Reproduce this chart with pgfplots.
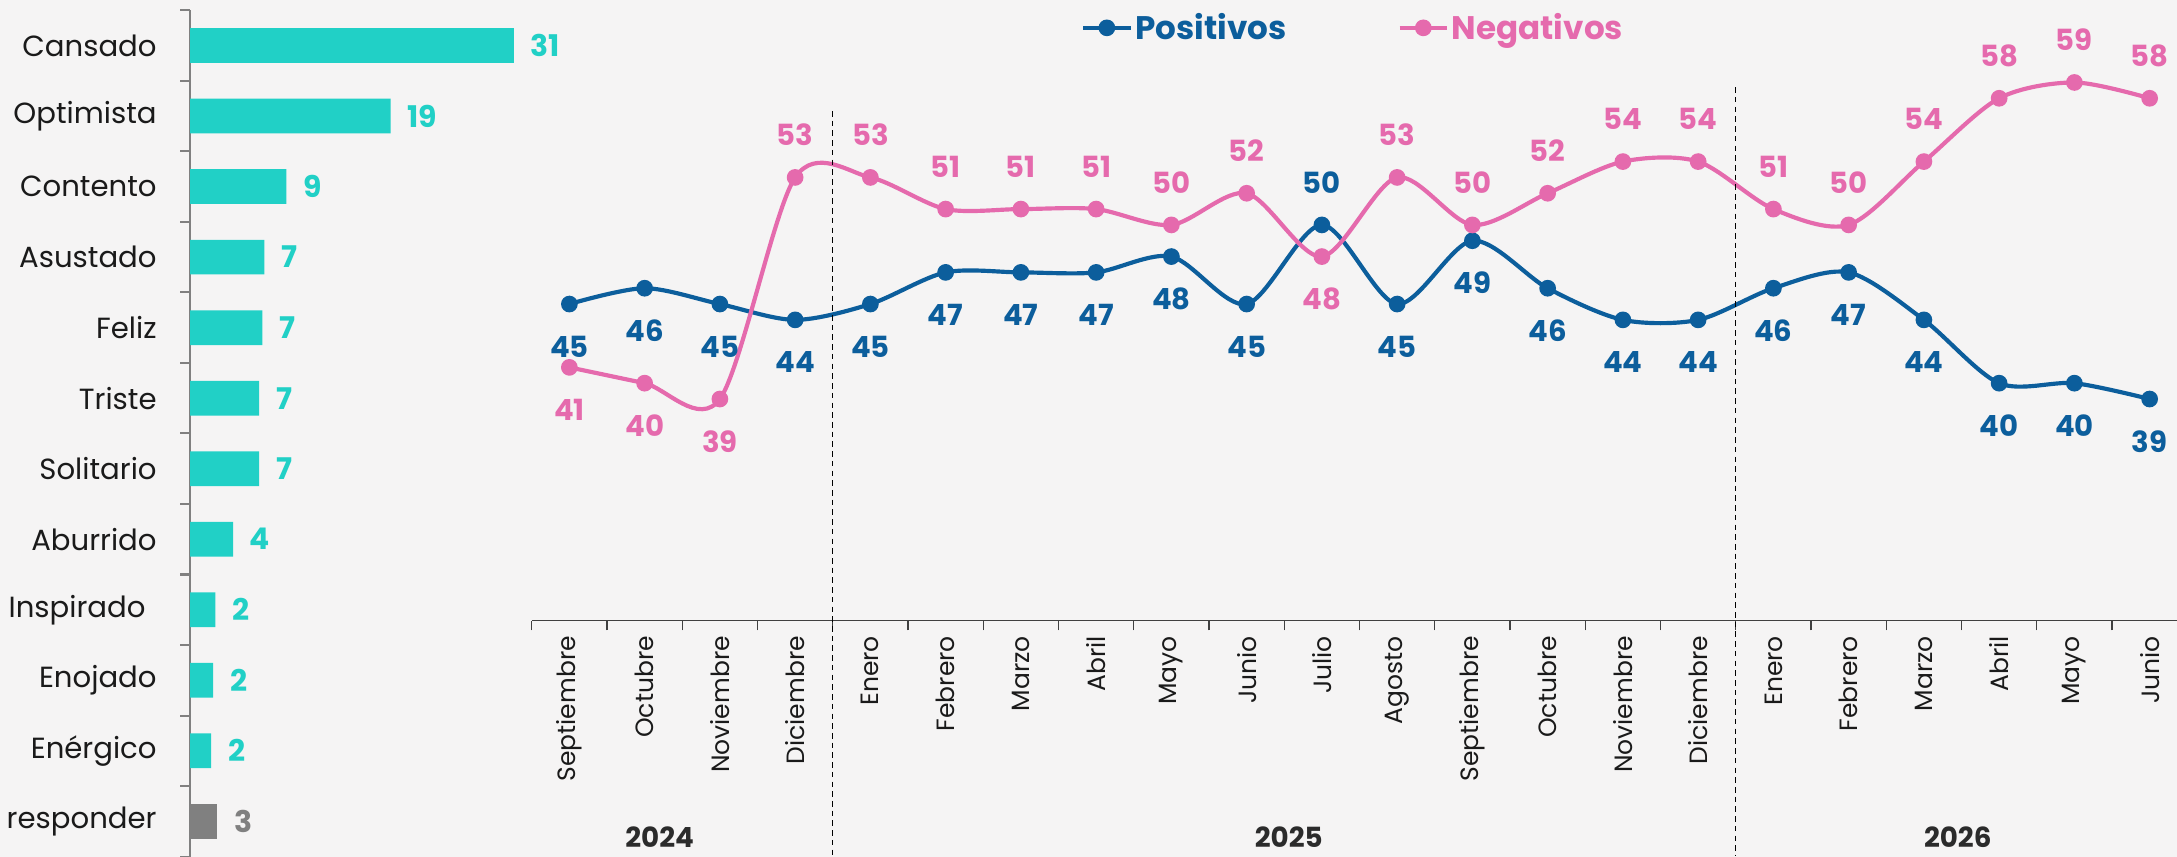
\documentclass[border=0pt]{standalone}
\usepackage{fontspec}
\setmainfont{Poppins}
\usepackage{pgfplots}
\pgfplotsset{compat=1.18}
\usepackage{pgfplotstable}

\definecolor{posc}{HTML}{0C5E9C}
\definecolor{negc}{HTML}{E56AAD}
\definecolor{tealc}{HTML}{21D0C6}
\definecolor{grayc}{HTML}{808080}
\definecolor{bgc}{HTML}{F5F4F4}
\definecolor{ink}{HTML}{1A1A1A}
\definecolor{yearc}{HTML}{2B2B2B}
\definecolor{axdark}{HTML}{404040}

\pgfplotstableread{
x y p
0 45 -1
1 46 -1
2 45 -1
3 44 -1
4 45 -1
5 47 -1
6 47 -1
7 47 -1
8 48 -1
9 45 -1
10 50 1
11 45 -1
12 49 -1
13 46 -1
14 44 -1
15 44 -1
16 46 -1
17 47 -1
18 44 -1
19 40 -1
20 40 -1
21 39 -1
}\posdata

\pgfplotstableread{
x y p
0 41 -1
1 40 -1
2 39 -1
3 53 1
4 53 1
5 51 1
6 51 1
7 51 1
8 50 1
9 52 1
10 48 -1
11 53 1
12 50 1
13 52 1
14 54 1
15 54 1
16 51 1
17 50 1
18 54 1
19 58 1
20 59 1
21 58 1
}\negdata

\pgfplotstableread{
v j
31 11
19.2 10
9.2 9
7.1 8
6.9 7
6.6 6
6.6 5
4.1 4
2.4 3
2.2 2
2.0 1
}\bardata

\pgfplotstableread{
v j
2.6 0
}\nrdata

\begin{document}
\begin{tikzpicture}
\useasboundingbox (0,0) rectangle (1568pt,617pt);
\fill[bgc] (0,0) rectangle (1568pt,617pt);

% ---------- left bar chart ----------
\begin{axis}[
  at={(137pt,0pt)}, anchor=south west, scale only axis,
  width=300.8pt, height=609.6pt,
  xmin=0, xmax=40, ymin=-0.5, ymax=11.5,
  axis x line=none, axis y line*=left,
  y axis line style={draw=grayc, line width=1.5pt, -},
  ytick={0,...,11},
  yticklabels={responder,Enérgico,Enojado,{Inspirado\hspace*{8pt}},Aburrido,Solitario,Triste,Feliz,Asustado,Contento,Optimista,Cansado},
  major tick length=0pt,
  minor ytick={-0.5,0.5,...,11.5},
  minor tick length=7pt, tick align=outside,
  minor tick style={draw=grayc, line width=1.5pt},
  yticklabel style={font=\fontsize{21}{25}\selectfont, text=ink, anchor=east, inner sep=0pt, xshift=-24pt},
  xbar, bar width=25pt, bar shift=0pt,
  point meta=x,
  nodes near coords={\pgfmathprintnumber[assume math mode=true,fixed,precision=0]{\pgfplotspointmeta}},
  every node near coord/.append style={font=\bfseries\fontsize{21.5}{25}\selectfont, anchor=west, inner sep=0pt, xshift=12pt},
  clip=false,
]
\addplot[draw=none, fill=tealc, xbar, bar shift=0pt, nodes near coords style={text=tealc}] table[x=v,y=j] {\bardata};
\addplot[draw=none, fill=grayc, xbar, bar shift=0pt, nodes near coords style={text=grayc}] table[x=v,y=j] {\nrdata};
\end{axis}

% ---------- main line chart ----------
\begin{axis}[
  at={(383pt,170pt)}, anchor=south west, scale only axis,
  width=1192.4pt, height=444.6pt,
  xmin=-0.5, xmax=21.5, ymin=25, ymax=64,
  axis y line=none, axis x line*=bottom,
  x axis line style={draw=axdark, line width=1pt, -},
  xtick={0,...,21},
  xticklabels={Septiembre,Octubre,Noviembre,Diciembre,Enero,Febrero,Marzo,Abril,Mayo,Junio,Julio,Agosto,Septiembre,Octubre,Noviembre,Diciembre,Enero,Febrero,Marzo,Abril,Mayo,Junio},
  major tick length=0pt,
  minor xtick={-0.5,0.5,...,21.5},
  minor tick length=7pt, tick align=outside,
  minor tick style={draw=axdark, line width=1pt},
  xticklabel style={rotate=90, anchor=east, inner sep=0pt, inner xsep=11pt, font=\fontsize{18}{22}\selectfont, text=ink},
  clip=false,
  legend style={at={(axis cs:10.42,62.45)}, anchor=center, draw=none, fill=none,
    legend columns=2, font=\bfseries\fontsize{23.5}{27}\selectfont,
    /tikz/every even column/.append style={column sep=78pt}},
  legend image code/.code={\draw[mark repeat=2,mark phase=2,#1] plot coordinates {(0pt,0pt) (17pt,0pt) (34pt,0pt)};},
  point meta=y,
]
\addplot[color=posc, line width=3pt, smooth, mark=*, mark size=4.5pt, mark options={solid, fill=posc},
  nodes near coords={\pgfmathprintnumber[assume math mode=true]{\pgfplotspointmeta}},
  visualization depends on={\thisrow{p} \as \lp},
  every node near coord/.append style={font=\bfseries\fontsize{21}{25}\selectfont, text=posc, anchor=center, inner sep=0pt, yshift=\lp*30.5pt}]
  table[x=x,y=y] {\posdata};
\addlegendentry{\textcolor{posc}{Positivos}}
\addplot[color=negc, line width=3pt, smooth, mark=*, mark size=4.5pt, mark options={solid, fill=negc},
  nodes near coords={\pgfmathprintnumber[assume math mode=true]{\pgfplotspointmeta}},
  visualization depends on={\thisrow{p} \as \lp},
  every node near coord/.append style={font=\bfseries\fontsize{21}{25}\selectfont, text=negc, anchor=center, inner sep=0pt, yshift=\lp*30.5pt}]
  table[x=x,y=y] {\negdata};
\addlegendentry{\textcolor{negc}{Negativos}}

\draw[black, line width=0.8pt, dash pattern=on 4pt off 3pt] (axis cs:3.5,57.2) -- (axis cs:3.5,10.1);
\draw[black, line width=0.8pt, dash pattern=on 4pt off 3pt] (axis cs:15.5,58.7) -- (axis cs:15.5,10.1);

\node[font=\bfseries\fontsize{20}{24}\selectfont, text=yearc] at (axis cs:1.2,11.3) {2024};
\node[font=\bfseries\fontsize{20}{24}\selectfont, text=yearc] at (axis cs:9.56,11.3) {2025};
\node[font=\bfseries\fontsize{20}{24}\selectfont, text=yearc] at (axis cs:18.45,11.3) {2026};
\end{axis}
\end{tikzpicture}
\end{document}
